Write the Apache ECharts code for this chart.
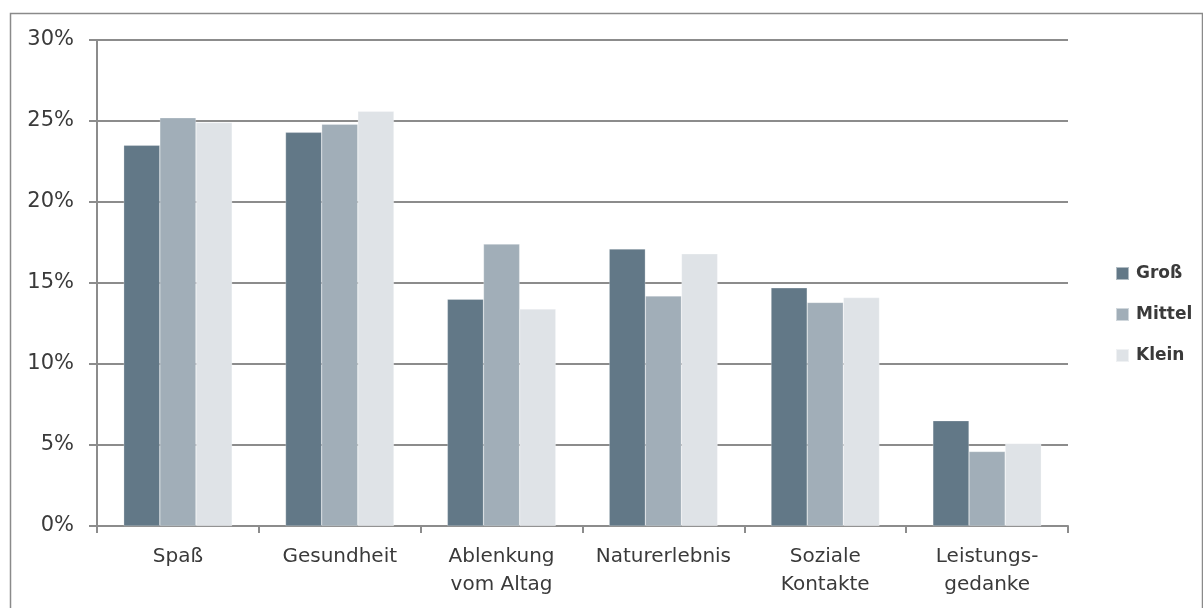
<!DOCTYPE html>
<html>
<head>
<meta charset="utf-8">
<script src="https://cdn.jsdelivr.net/npm/echarts@6/dist/echarts.min.js"></script>
<style>html,body{margin:0;padding:0;background:#fff}#c{width:1203px;height:608px}</style>
</head>
<body>
<div id="c"></div>
<script>
const categories = ['Spaß', 'Gesundheit', 'Ablenkung\nvom Altag', 'Naturerlebnis', 'Soziale\nKontakte', 'Leistungs-\ngedanke'];
const seriesNames = ['Groß', 'Mittel', 'Klein'];
const gross  = [23.5, 24.3, 14.0, 17.1, 14.7, 6.5];
const mittel = [25.2, 24.8, 17.4, 14.2, 13.8, 4.6];
const klein  = [24.9, 25.6, 13.4, 16.8, 14.1, 5.1];
const yTicks = { min: 0, max: 30, interval: 5 };
const colors = ['#627887', '#A1AEB8', '#DFE3E7'];
const values = [gross, mittel, klein];

const chart = echarts.init(document.getElementById('c'), null, { renderer: 'canvas' });
const font = '"DejaVu Sans", sans-serif';
chart.setOption({
  animation: false,
  backgroundColor: '#fff',
  graphic: [{
    type: 'rect', left: 8, top: 11, z: -1,
    shape: { width: 1192, height: 640 },
    style: { fill: 'none', stroke: '#8a8a8a', lineWidth: 1.5 }
  }],
  grid: { left: 97, right: 135, top: 40, bottom: 82 },
  legend: {
    orient: 'vertical', left: 1110, top: 260,
    itemWidth: 13, itemHeight: 13, itemGap: 24,
    icon: 'rect',
    textStyle: { fontFamily: font, fontSize: 17, fontWeight: 'bold', color: '#3a3a3a', padding: [0, 0, 0, 2] },
    data: seriesNames
  },
  xAxis: {
    type: 'category', data: categories,
    axisLine: { lineStyle: { color: '#8c8c8c', width: 2 } },
    axisTick: { show: true, length: 7, alignWithLabel: false, lineStyle: { color: '#8c8c8c', width: 2 } },
    axisLabel: { fontFamily: font, fontSize: 20, color: '#3a3a3a', margin: 17, lineHeight: 28, interval: 0 }
  },
  yAxis: {
    type: 'value', min: yTicks.min, max: yTicks.max, interval: yTicks.interval,
    axisLine: { show: true, lineStyle: { color: '#8c8c8c', width: 2 } },
    axisTick: { show: true, length: 8, lineStyle: { color: '#8c8c8c', width: 2 } },
    splitLine: { lineStyle: { color: '#8c8c8c', width: 2 } },
    axisLabel: { fontFamily: font, fontSize: 21, color: '#3a3a3a', margin: 23, formatter: '{value}%' }
  },
  series: seriesNames.map((n, i) => ({
    name: n, type: 'bar', data: values[i],
    barGap: '0%', barCategoryGap: '33%',
    itemStyle: { color: colors[i], borderColor: 'rgba(255,255,255,0.5)', borderWidth: 0.5 }
  }))
});
</script>
</body>
</html>
